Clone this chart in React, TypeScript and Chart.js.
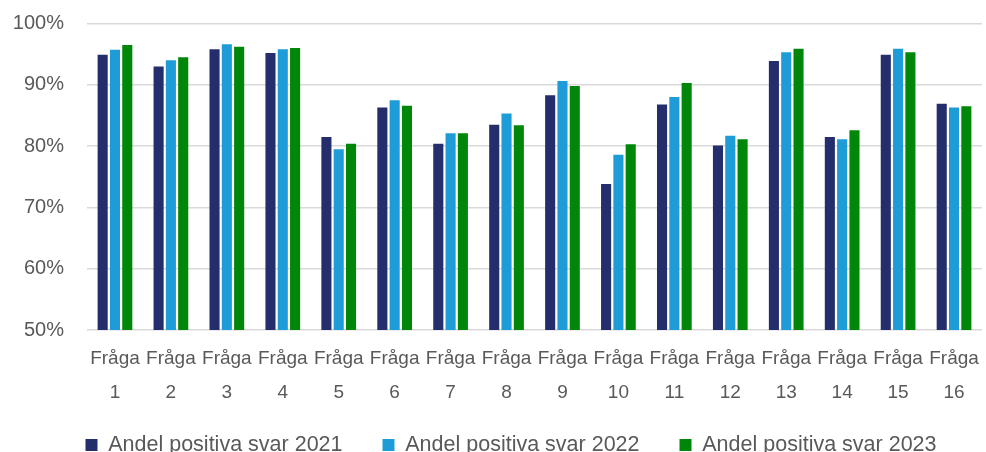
import React, { useEffect, useRef } from "react";
import { Chart, registerables } from "chart.js";

Chart.register(...registerables);

const categories = ["1", "2", "3", "4", "5", "6", "7", "8", "9", "10", "11", "12", "13", "14", "15", "16"];
const series2021 = [94.9, 93.0, 95.8, 95.2, 81.5, 86.3, 80.4, 83.5, 88.3, 73.8, 86.8, 80.1, 93.9, 81.5, 94.9, 86.9];
const series2022 = [95.7, 94.0, 96.6, 95.8, 79.5, 87.5, 82.1, 85.3, 90.6, 78.6, 88.0, 81.7, 95.3, 81.1, 95.9, 86.3];
const series2023 = [96.5, 94.5, 96.2, 96.0, 80.4, 86.6, 82.1, 83.4, 89.8, 80.3, 90.3, 81.1, 95.9, 82.6, 95.3, 86.5];
const seriesNames = ["Andel positiva svar 2021", "Andel positiva svar 2022", "Andel positiva svar 2023"];
const yTicks = [50, 60, 70, 80, 90, 100];

const FONT = "'Liberation Sans', Arial, sans-serif";
const TEXT = "#595959";

const legendShift = {
  id: "legendShift",
  afterLayout(chart: any) {
    const lg = chart.legend;
    if (!lg) return;
    const dy = -15.75;
    const dx = 20;
    lg.top += dy;
    lg.bottom += dy;
    lg.left += dx;
    lg.right += dx;
  },
};

export default function App() {
  const ref = useRef<HTMLCanvasElement>(null);
  useEffect(() => {
    document.body.style.margin = "0";
    const ctx = ref.current!;
    const chart = new Chart(ctx, {
      type: "bar",
      data: {
        labels: categories.map((c) => ["Fråga", c]),
        datasets: [
          { label: seriesNames[0], data: series2021, backgroundColor: "#252E6C" },
          { label: seriesNames[1], data: series2022, backgroundColor: "#1E9CD8" },
          { label: seriesNames[2], data: series2023, backgroundColor: "#00870A" },
        ],
      },
      plugins: [legendShift],
      options: {
        animation: false,
        responsive: false,
        maintainAspectRatio: false,
        datasets: { bar: { categoryPercentage: 0.66, barPercentage: 0.82 } },
        layout: { padding: { top: 23.5, right: 4, left: 0, bottom: -29.5 } },
        plugins: {
          tooltip: { enabled: false },
          legend: {
            position: "bottom",
            labels: {
              boxWidth: 12,
              boxHeight: 12,
              padding: 40,
              color: TEXT,
              font: { family: FONT, size: 21.5 },
            },
          },
        },
        scales: {
          x: {
            grid: { display: false, drawTicks: false },
            border: { display: false },
            ticks: {
              autoSkip: false,
              maxRotation: 0,
              minRotation: 0,
              padding: 12,
              color: TEXT,
              font: { family: FONT, size: 19, lineHeight: 1.77 },
            },
            afterFit: (s: any) => {
              s.height = 80;
              s.paddingLeft = 0;
              s.paddingRight = 0;
              s.paddingTop = 0;
              s.paddingBottom = 0;
            },
          },
          y: {
            min: 50,
            max: 100,
            afterBuildTicks: (s: any) => {
              s.ticks = yTicks.map((v) => ({ value: v }));
            },
            grid: { color: "#d9d9d9", lineWidth: 1.5, drawTicks: false },
            border: { display: false },
            ticks: {
              padding: 23,
              color: TEXT,
              font: { family: FONT, size: 20 },
              callback: (v: any) => v + "%",
            },
            afterFit: (s: any) => {
              s.width = 87;
              s.paddingTop = 0;
              s.paddingBottom = 0;
              s.paddingLeft = 0;
              s.paddingRight = 0;
            },
          },
        },
      },
    });
    return () => chart.destroy();
  }, []);
  return <canvas ref={ref} width={986} height={452} style={{ display: "block" }} />;
}
